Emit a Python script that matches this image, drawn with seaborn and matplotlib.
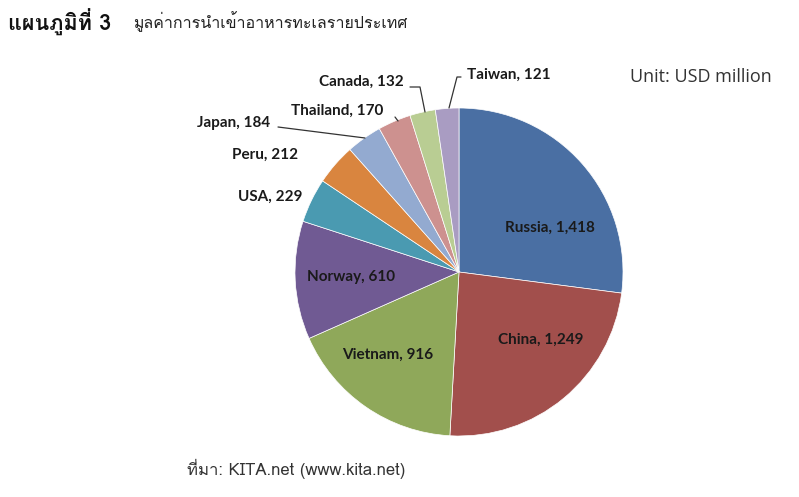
import matplotlib
matplotlib.use("Agg")
import matplotlib.pyplot as plt
import seaborn as sns
from matplotlib import font_manager
from matplotlib.ft2font import FT2Font

# data (USD million)
countries = ["Russia", "China", "Vietnam", "Norway", "USA",
             "Peru", "Japan", "Thailand", "Canada", "Taiwan"]
values = [1418, 1249, 916, 610, 229, 212, 184, 170, 132, 121]
label_texts = ["Russia, 1,418", "China, 1,249", "Vietnam, 916", "Norway, 610",
               "USA, 229", "Peru, 212", "Japan, 184", "Thailand, 170",
               "Canada, 132", "Taiwan, 121"]

title_bold = "แผนภูมิที่ 3"
title_rest = "มูลค่าการนำเข้าอาหารทะเลรายประเทศ"
unit_text = "Unit: USD million"
source_text = "ที่มา: KITA.net (www.kita.net)"

colors = ["#4a6fa3", "#a24f4c", "#8fa85a", "#705a93", "#4a9ab1",
          "#d9853f", "#93aad0", "#cd918f", "#b9cd93", "#a99cc2"]

sns.set_theme(style="white")

# look for any installed font that has Thai glyphs
thai_fonts = []
for f in font_manager.fontManager.ttflist:
    try:
        if ord("ภ") in FT2Font(f.fname).get_charmap() and f.name not in thai_fonts:
            thai_fonts.append(f.name)
    except Exception:
        pass
thai_family = thai_fonts[:1] + ["DejaVu Sans"]
label_family = ["Lato", "DejaVu Sans"]
plt.rcParams["font.family"] = label_family

# pie geometry in pixels
W, H = 799, 497
CX, CY, R = 459, 272, 164


def px(x, y):
    return (x - CX) / R, (CY - y) / R


fig = plt.figure(figsize=(W / 100, H / 100), dpi=100)
ax = fig.add_axes([0, 0, 1, 1])
ax.pie(values, colors=colors, startangle=90, counterclock=False, radius=1,
       wedgeprops=dict(edgecolor="white", linewidth=0.5))
ax.set_aspect("auto")
ax.set_xlim(-CX / R, (W - CX) / R)
ax.set_ylim(-(H - CY) / R, CY / R)
ax.axis("off")

# label positions (pixel centres), Excel-style
label_pos = {
    "Russia": (550, 228), "China": (541, 340), "Vietnam": (388, 355),
    "Norway": (351, 277), "USA": (270, 197), "Peru": (265, 155),
    "Japan": (234, 123), "Thailand": (337, 111), "Canada": (361, 82),
    "Taiwan": (509, 75),
}
for name, txt in zip(countries, label_texts):
    x, y = px(*label_pos[name])
    ax.text(x, y, txt, ha="center", va="center", fontsize=11,
            fontweight="bold", color="#1a1a1a")

# leader lines
leaders = [
    [(278, 127), (365, 138)],
    [(395, 117), (398, 121)],
    [(410, 87), (420, 87), (425, 112)],
    [(461, 77), (457, 77), (449, 108)],
]
for pts in leaders:
    xs, ys = zip(*[px(*p) for p in pts])
    ax.plot(xs, ys, color="#333333", linewidth=0.9)

fig.text(8 / W, 1 - 22 / H, title_bold, ha="left", va="center",
         fontsize=15.5, fontweight="bold", color="#111111",
         family=thai_family)
fig.text(133 / W, 1 - 22 / H, title_rest, ha="left", va="center",
         fontsize=11.5, color="#222222", family=thai_family)
fig.text(630 / W, 1 - 77 / H, unit_text, ha="left", va="center", fontsize=13,
         color="#333333", family=["Open Sans", "DejaVu Sans"])
fig.text(187 / W, 1 - 469 / H, source_text, ha="left", va="center",
         fontsize=12, color="#333333", family=thai_family)

fig.savefig("out.png", dpi=100, facecolor="white")
